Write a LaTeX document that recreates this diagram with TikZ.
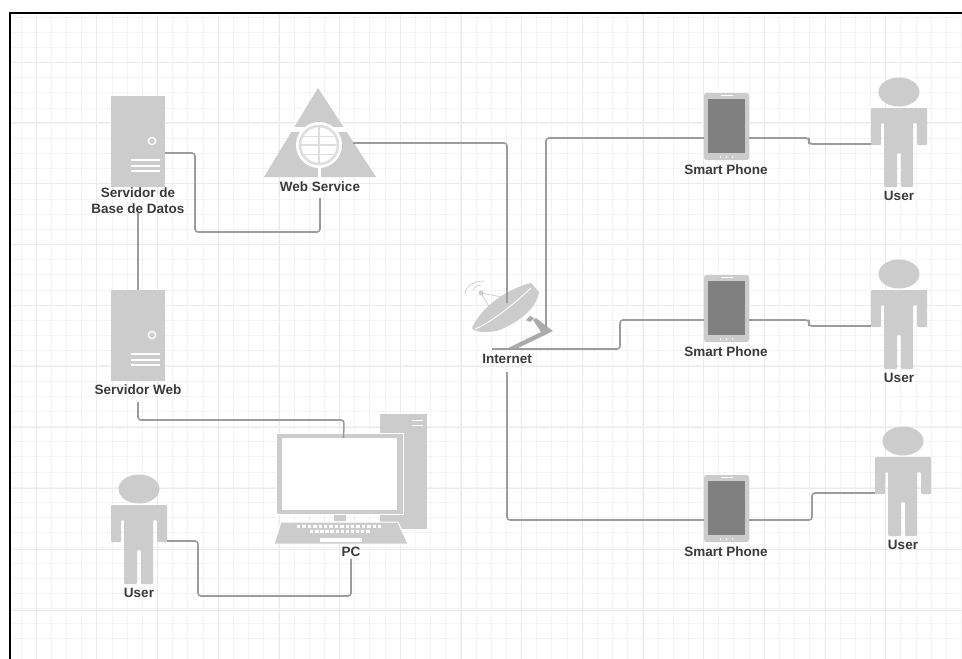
\documentclass[tikz,border=0pt]{standalone}
\usepackage{fontspec}
\setmainfont{Liberation Sans}
\usepackage{xcolor}
\definecolor{Ink}{HTML}{3A3A3A}
\definecolor{Shape}{HTML}{CCCCCC}
\definecolor{Screen}{HTML}{808080}
\definecolor{Wire}{HTML}{9C9C9C}
\definecolor{GridMinor}{HTML}{F4F4F4}
\definecolor{GridMajor}{HTML}{EBEBEB}
\tikzset{
  caption/.style={font=\bfseries\fontsize{13.5}{16}\selectfont,text=Ink,align=center,inner sep=2pt},
  wire/.style={draw=Wire,line width=1.6pt,rounded corners=3pt},
  server/.pic={
    \fill[Shape] (-27,-45) rectangle (26.5,46);
    \fill[white] (14,0) circle (4.4);
    \fill[Shape] (14,0) circle (2.8);
    \draw[white,line width=1.2pt] (-7,19) -- (22,19) (-7,25) -- (22,25) (-7,30) -- (22,30);
    \coordinate (-right) at (27,12);
    \coordinate (-top) at (0,-45);
  },
  phone/.pic={
    \fill[Shape,rounded corners=2.5pt] (-22.5,-33.5) rectangle (22.5,33.5);
    \fill[Screen] (-18.5,-27.5) rectangle (18.5,26.5);
    \draw[white,line width=1pt] (-6,-31) -- (6,-31);
    \foreach \dx in {-6,0,6} \fill[white] (\dx,30.5) circle (0.8);
    \coordinate (-left) at (-22.5,11.5);
    \coordinate (-right) at (22.5,11.5);
  },
  user/.pic={
    \fill[Shape] (0,0) ellipse [x radius=20.5,y radius=14.5];
    \fill[Shape,rounded corners=1pt] (-28,16) -- (-28,53) -- (-18,53) -- (-18,31) -- (-15,31)
      -- (-15,95) -- (-2,95) -- (-2,61) -- (2,61) -- (2,95) -- (14,95) -- (14,31)
      -- (18,31) -- (18,53) -- (28,53) -- (28,16) -- cycle;
    \coordinate (-left) at (-28,52);
    \coordinate (-right) at (28,52);
  },
}
\begin{document}
\begin{tikzpicture}[x=1pt,y=-1pt]
\useasboundingbox (0,0) rectangle (962,659);
\fill[white] (0,0) rectangle (962,659);
% grid
\foreach \i in {0,...,62} {
  \draw[GridMinor,line width=1pt] (21+15.17*\i,14) -- (21+15.17*\i,659);
}
\foreach \i in {0,...,41} {
  \draw[GridMinor,line width=1pt] (11,17+15.17*\i) -- (962,17+15.17*\i);
}
\foreach \i in {0,...,14} {
  \draw[GridMajor,line width=1pt] (36.3+60.68*\i,14) -- (36.3+60.68*\i,659);
}
\foreach \i in {0,...,10} {
  \draw[GridMajor,line width=1pt] (11,62+60.9*\i) -- (962,62+60.9*\i);
}
\draw[black,line width=2pt] (10,659) -- (10,13) -- (962,13);
% servers
\pic (dbSrv) at (138,141) {server};
\pic (webSrv) at (138,335) {server};
\node[caption] (dbLabel) at (138,201) {Servidor de\\Base de Datos};
\node[caption] (webSrvLabel) at (138,390) {Servidor Web};
\coordinate (dbDown) at (138,213);
\coordinate (webSrvDown) at (138,402);
% web service
\fill[Shape] (318,88) -- (376,177) -- (264,177) -- cycle;
\draw[white,line width=5pt] (282,129.5) -- (354,129.5);
\draw[white,line width=3pt] (319,160) -- (319,178);
\fill[white] (319,145) circle (23);
\draw[Shape!65,line width=2.6pt] (319,145) circle (19);
\draw[Shape!65,line width=2pt] (319,126) -- (319,164) (300,145) -- (338,145);
\draw[Shape!65,line width=0.8pt] (303,136) -- (335,136) (303,154) -- (335,154);
\coordinate (webRight) at (353,143);
\coordinate (webDown) at (320,198);
\node[caption] (webLabel) at (320,187) {Web Service};
% dish
\fill[Shape] (472,328) .. controls (482,305) and (510,288) .. (531,283) -- (539,292)
  .. controls (537,305) and (525,320) .. (497,331)
  .. controls (485,333) and (473,332) .. (472,328) -- cycle;
\draw[white,line width=0.9pt] (475,329) .. controls (492,322) and (515,303) .. (531,288);
\draw[Shape,line width=0.7pt] (493,313) -- (481,293) -- (507,298);
\fill[Shape] (481,293) circle (2.5);
\draw[Shape,line width=0.7pt] (465,294) .. controls (466,285) and (475,281) .. (484,281);
\draw[Shape,line width=0.7pt] (473,291) .. controls (474,287) and (477,285) .. (481,285);
\fill[Wire!85] (526,320) -- (530,316) -- (534,318) -- (530,322) -- cycle;
\fill[Wire!85] (533,320) -- (536,318) -- (553,331) -- (516,349) -- (506,349) -- (541,332) -- cycle;
\node[caption] (netLabel) at (507,359) {Internet};
\coordinate (netTop) at (507,303);
\coordinate (netUp) at (546,327);
\coordinate (netOut) at (492,349);
\coordinate (netDown) at (507,372);
% pc
\fill[Shape] (380,414) rectangle (427,529);
\draw[white,line width=1pt] (412,420) -- (423,420) (412,425) -- (423,425);
\fill[Shape,draw=white,line width=1pt] (276,433) rectangle (403,514.5);
\fill[white] (282,438) rectangle (397,510);
\fill[Shape] (334,515) rectangle (346,521);
\fill[Shape,draw=white,line width=1pt] (281,522) -- (398,522) -- (408,544) -- (274,544) -- cycle;
\foreach \i in {0,...,15} \fill[white] (297+5.4*\i,525.3) rectangle ++(3.4,2.8);
\foreach \i in {0,...,11} \fill[white] (310+5.1*\i,530.3) rectangle ++(3.4,2.8);
\fill[white] (320,538) rectangle (362,542);
\coordinate (pcTop) at (343.5,438);
\node[caption] (pcLabel) at (351,552) {PC};
% phones and users
\pic (phoneA) at (726.5,126.5) {phone};
\pic (phoneB) at (726.5,308.5) {phone};
\pic (phoneC) at (726.5,508.5) {phone};
\node[caption] (phoneALabel) at (726,170) {Smart Phone};
\node[caption] (phoneBLabel) at (726,352) {Smart Phone};
\node[caption] (phoneCLabel) at (726,552) {Smart Phone};
\pic (userA) at (899,92) {user};
\pic (userB) at (899,274) {user};
\pic (userC) at (903,441) {user};
\pic (userD) at (139,489) {user};
\node[caption] (userALabel) at (899,196) {User};
\node[caption] (userBLabel) at (899,378) {User};
\node[caption] (userCLabel) at (903,545) {User};
\node[caption] (userDLabel) at (139,593) {User};
% bends
\coordinate (dbBend) at (195,232);
\coordinate (srvBend) at (344,420);
\coordinate (pcBend) at (198,596);
\coordinate (midBend) at (620,335);
\coordinate (stepA) at (809,141);
\coordinate (stepB) at (809,323);
\coordinate (stepC) at (812,506);
% connectors
\draw[wire] (dbSrv-right) -| (dbBend) -| (webDown);
\draw[wire] (dbDown) -- (webSrv-top);
\draw[wire] (webRight) -| (netTop);
\draw[wire] (webSrvDown) |- (srvBend) -- (pcTop);
\draw[wire] (userD-right) -| (pcBend) -| (pcLabel.south);
\draw[wire] (netUp) |- (phoneA-left);
\draw[wire] (netOut) -| (midBend) |- (phoneB-left);
\draw[wire] (netDown) |- (phoneC-left);
\draw[wire] (phoneA-right) -| (stepA) |- (userA-left);
\draw[wire] (phoneB-right) -| (stepB) |- (userB-left);
\draw[wire] (phoneC-right) -| (stepC) |- (userC-left);
\end{tikzpicture}
\end{document}
